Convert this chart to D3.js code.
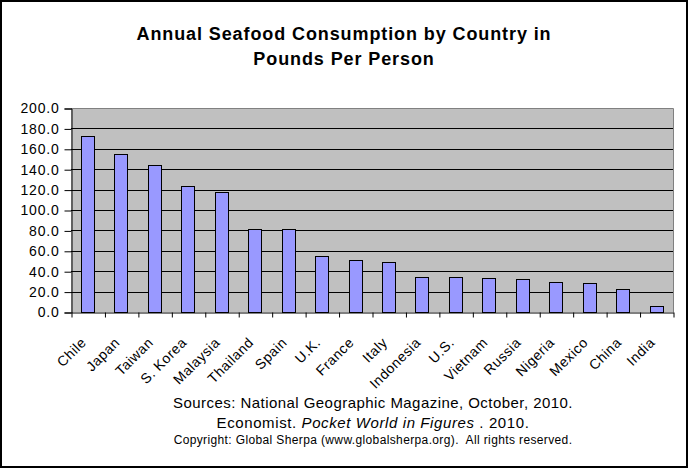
<!DOCTYPE html>
<html><head><meta charset="utf-8">
<script src="https://cdn.jsdelivr.net/npm/d3@7"></script>
<style>
body{margin:0;background:#fff}
svg{display:block}
text{font-family:"Liberation Sans",Arial,sans-serif;fill:#000}
</style>
</head><body>
<svg id="chart" width="688" height="469"></svg>
<script>
const countries = ["Chile","Japan","Taiwan","S. Korea","Malaysia","Thailand","Spain","U.K.","France","Italy","Indonesia","U.S.","Vietnam","Russia","Nigeria","Mexico","China","India"];
const pounds = [172.3,154.6,143.8,123.2,117.3,81.0,81.0,54.6,50.7,48.7,34.0,34.0,33.0,32.0,29.1,28.1,22.2,5.6];
const yTicks = [0,20,40,60,80,100,120,140,160,180,200];
const titleLines = ["Annual Seafood Consumption by Country in","Pounds Per Person"];
const sourceLine1 = "Sources: National Geographic Magazine, October, 2010.";
const sourceLine2 = ["Economist. ","Pocket World in Figures"," . 2010."];
const copyrightLine = "Copyright: Global Sherpa (www.globalsherpa.org).  All rights reserved.";

const W = 688, H = 469;
const plot = {left:71, right:673, top:108, bottom:312};
const FONT = '"Liberation Sans",Arial,sans-serif';
const svg = d3.select("#chart");

// outer border
svg.append("rect").attr("x",1).attr("y",1).attr("width",W-2).attr("height",H-3)
  .attr("fill","#fff").attr("stroke","#000").attr("stroke-width",2);

const x = d3.scaleBand().domain(countries).range([plot.left, plot.right]).paddingInner(0.6).paddingOuter(0.3);
const xb = d3.scaleLinear().domain([0, countries.length]).range([plot.left, plot.right]);
const y = d3.scaleLinear().domain([0,200]).range([plot.bottom, plot.top]);

// plot background
svg.append("rect").attr("x",plot.left).attr("y",plot.top)
  .attr("width",plot.right-plot.left).attr("height",plot.bottom-plot.top).attr("fill","#C0C0C0");

// gridlines
svg.append("g").selectAll("line").data(yTicks.filter(d=>d>0 && d<200)).join("line")
  .attr("x1",plot.left).attr("x2",plot.right)
  .attr("y1",d=>Math.round(y(d))+0.5).attr("y2",d=>Math.round(y(d))+0.5)
  .attr("stroke","#000").attr("stroke-width",1);

// plot border top/right (gray)
svg.append("path")
  .attr("d",`M${plot.left},${plot.top+0.5}H${plot.right+0.5}V${plot.bottom}`)
  .attr("fill","none").attr("stroke","#808080").attr("stroke-width",1);

// bars
svg.append("g").selectAll("rect").data(countries).join("rect")
  .attr("x",(d)=>Math.round(x(d))+0.5)
  .attr("y",(d,i)=>Math.round(y(pounds[i]))+0.5)
  .attr("width",Math.round(x.bandwidth()))
  .attr("height",(d,i)=>Math.round(y(0))-Math.round(y(pounds[i])))
  .attr("fill","#9999FF").attr("stroke","#000").attr("stroke-width",1);

// y axis
const yAxis = svg.append("g").attr("transform",`translate(${plot.left+0.5},0.5)`)
  .call(d3.axisLeft(y).tickValues(yTicks).tickFormat(d3.format(".1f")).tickSize(7).tickPadding(5));
yAxis.select(".domain").attr("stroke","#000");
yAxis.selectAll(".tick line").attr("stroke","#000");
yAxis.selectAll("text").attr("font-size",14).attr("font-family",FONT).attr("letter-spacing","0.8px");

// x axis (ticks at category boundaries)
const xAxis = svg.append("g").attr("transform",`translate(0.5,${plot.bottom+0.5})`)
  .call(d3.axisBottom(xb).tickValues(d3.range(countries.length+1)).tickFormat("").tickSize(5).tickSizeOuter(0));
xAxis.select(".domain").attr("stroke","#000");
xAxis.selectAll(".tick line").attr("stroke","#000");

// x labels
svg.append("g").selectAll("text").data(countries).join("text")
  .attr("transform",d=>`translate(${x(d)+x.bandwidth()/2-4},${340}) rotate(-45)`)
  .attr("text-anchor","end").attr("dy","0.35em").attr("font-size",14).attr("letter-spacing","0.5px")
  .text(d=>d);

// title
svg.append("g").selectAll("text").data(titleLines).join("text")
  .attr("x",344).attr("y",(d,i)=>40+i*25)
  .attr("text-anchor","middle").attr("font-size",18).attr("font-weight","bold").attr("letter-spacing","0.9px")
  .text(d=>d);

// sources
svg.append("text").attr("x",373).attr("y",408).attr("text-anchor","middle").attr("font-size",15)
  .attr("letter-spacing","0.45px").text(sourceLine1);
const s2 = svg.append("text").attr("x",373).attr("y",428).attr("text-anchor","middle").attr("font-size",15)
  .attr("letter-spacing","0.6px").style("white-space","pre");
s2.selectAll("tspan").data(sourceLine2).join("tspan")
  .attr("font-style",(d,i)=>i===1?"italic":"normal").text(d=>d);
svg.append("text").attr("x",373).attr("y",444).attr("text-anchor","middle").attr("font-size",12)
  .attr("letter-spacing","0.37px").style("white-space","pre").text(copyrightLine);
</script>
</body></html>
